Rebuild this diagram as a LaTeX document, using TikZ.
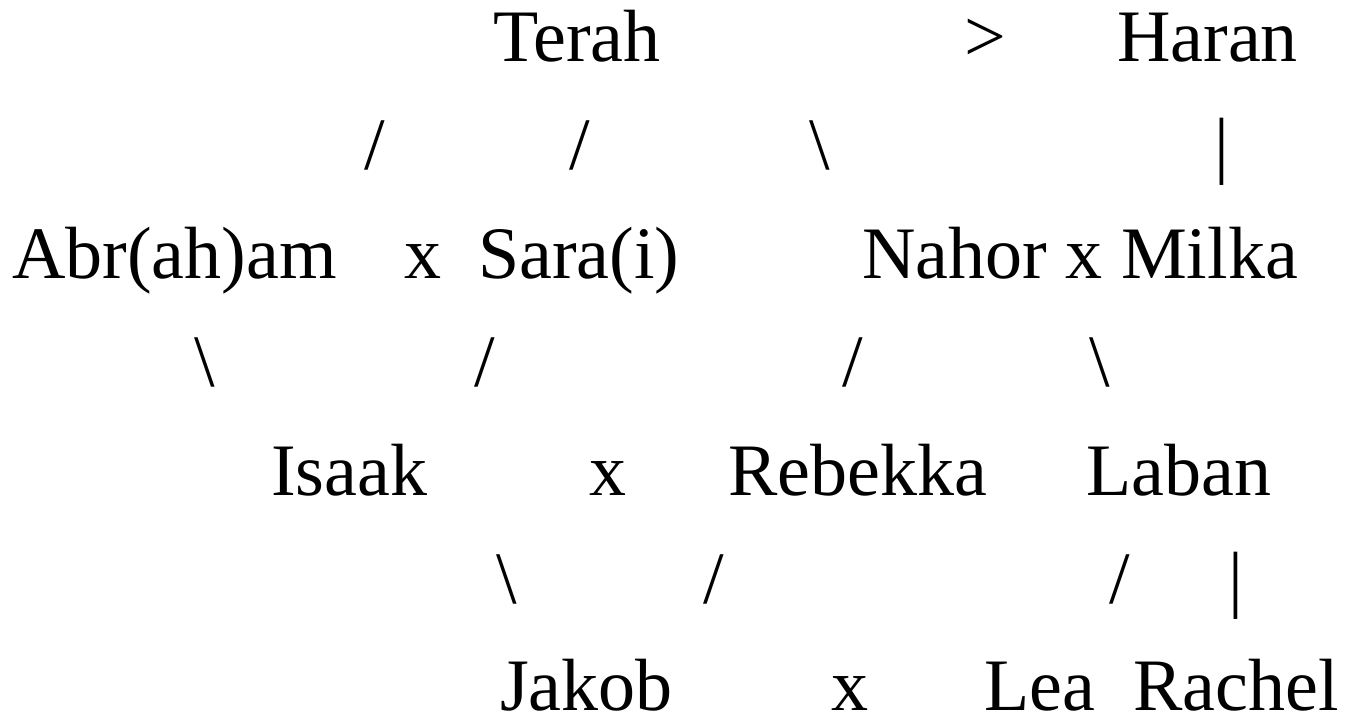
\documentclass[tikz,border=0pt]{standalone}
\usepackage{fontspec}
\setmainfont{Liberation Serif}
\begin{document}
\begin{tikzpicture}[x=1pt,y=-1pt,
  person/.style={anchor=base west,inner sep=0pt,font=\fontsize{74}{88}\selectfont},
  link/.style={anchor=base,inner sep=0pt,font=\fontsize{74}{88}\selectfont}]
\useasboundingbox (0,0) rectangle (1347,714);
% row 1
\node[person] (terah) at (493,62) {Terah};
\node[person] (gt) at (964,62) {>};
\node[person] (haran) at (1117,62) {Haran};
% row 2
\node[link] (s1) at (375,170) {/};
\node[link] (s2) at (580,170) {/};
\node[link] (s3) at (820,170) {\textbackslash};
\node[link] (s4) at (1222,170) {|};
% row 3
\node[person] (abr) at (12,278) {Abr(ah)am};
\node[person] (x1) at (404,278) {x};
\node[person] (sara) at (478,278) {Sara(i)};
\node[person] (nahor) at (862,278) {Nahor x Milka};
% row 4
\node[link] (s5) at (205,386) {\textbackslash};
\node[link] (s6) at (485,386) {/};
\node[link] (s7) at (853,386) {/};
\node[link] (s8) at (1100,386) {\textbackslash};
% row 5
\node[person] (isaak) at (271,495) {Isaak};
\node[person] (x2) at (589,495) {x};
\node[person] (rebekka) at (728,495) {Rebekka};
\node[person] (laban) at (1086,495) {Laban};
% row 6
\node[link] (s9) at (507,603) {\textbackslash};
\node[link] (s10) at (714,603) {/};
\node[link] (s11) at (1120,603) {/};
\node[link] (s12) at (1236,603) {|};
% row 7
\node[person] (jakob) at (500,710) {Jakob};
\node[person] (x3) at (831,710) {x};
\node[person] (lea) at (984,710) {Lea};
\node[person] (rachel) at (1133,710) {Rachel};
\end{tikzpicture}
\end{document}
